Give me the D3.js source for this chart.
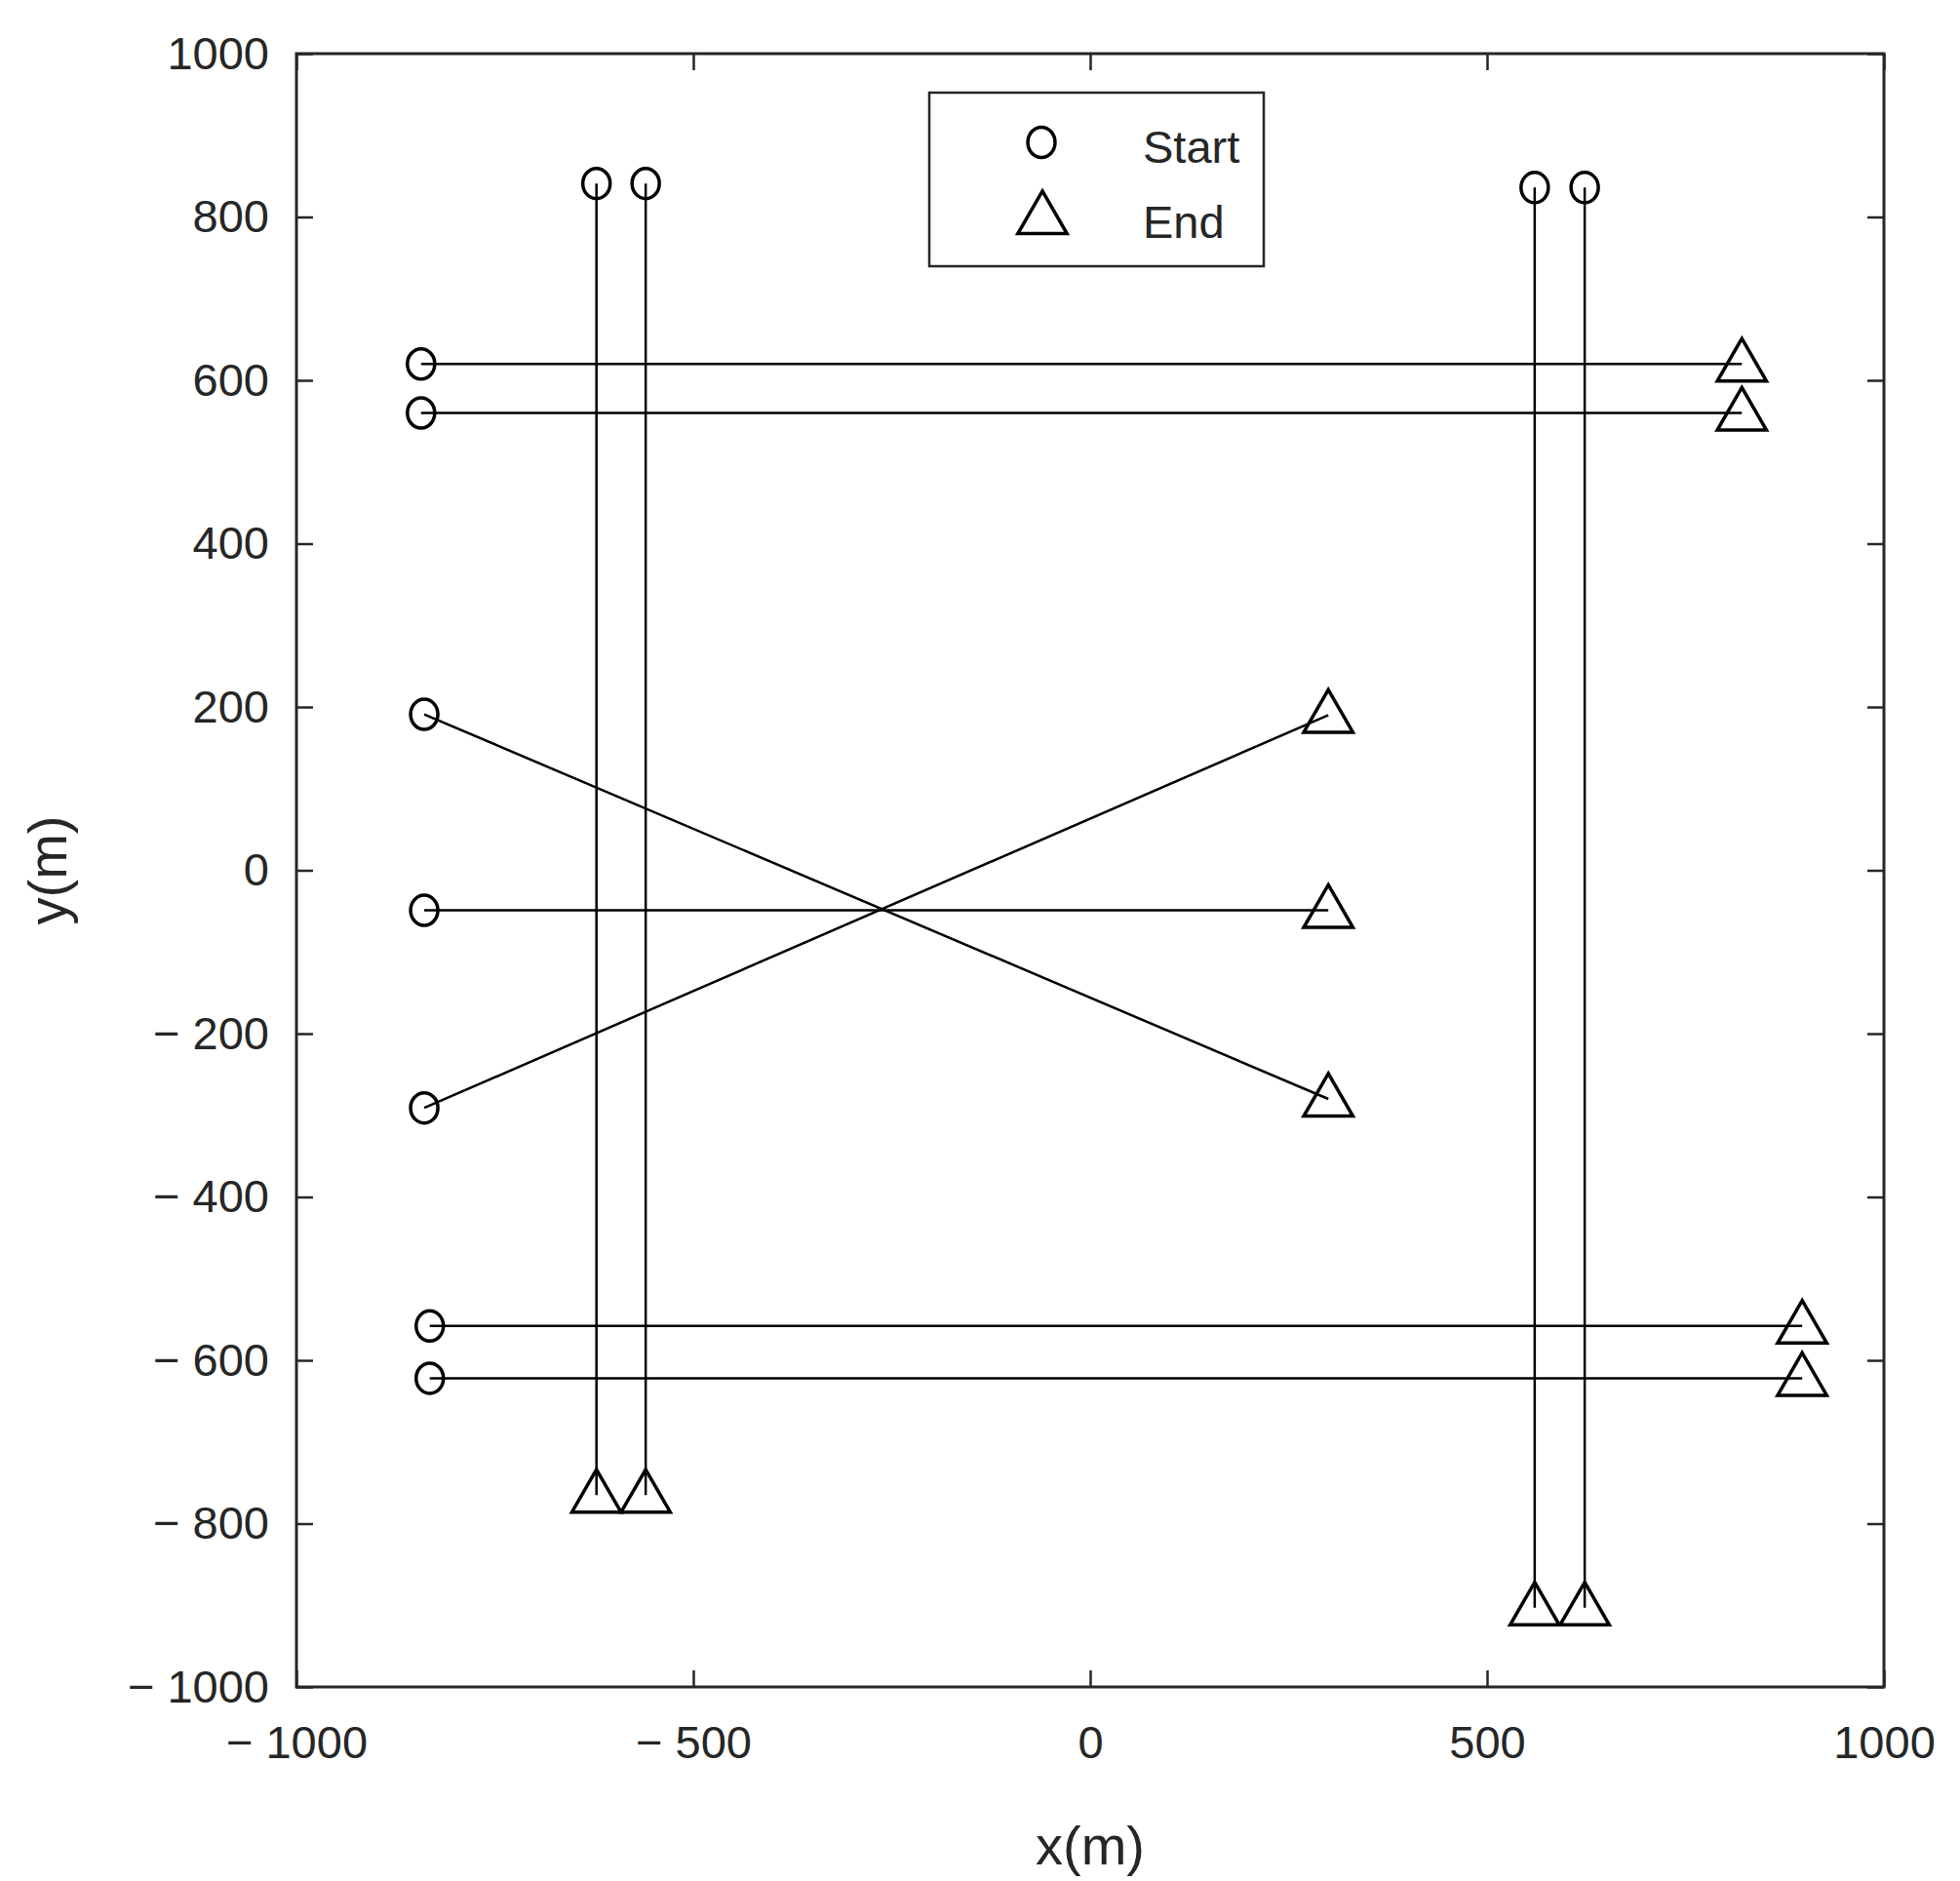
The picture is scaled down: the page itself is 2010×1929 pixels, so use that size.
<!DOCTYPE html><html><head><meta charset="utf-8"><script src="https://cdn.jsdelivr.net/npm/d3@7"></script>
<style>body{margin:0;background:#fff}text{font-family:"Liberation Sans",Arial,sans-serif;fill:#262626}</style></head><body>
<svg id="c" width="2010" height="1929"></svg>
<script>
const startX=[-622,-560,560,623,-843,-843,-839,-839,-839,-832,-832];
const startY=[841,841,836,836,620,560,191,-49,-291,-558,-622];
const endX=[-622,-560,560,623,821,821,300,300,300,897,897];
const endY=[-765,-765,-903,-903,620,560,-280,-49,190,-558,-622];
const xTicks=[-1000,-500,0,500,1000];
const yTicks=[-1000,-800,-600,-400,-200,0,200,400,600,800,1000];
const legendLabels=["Start","End"];
const L=304,R=1932,T=55,B=1730;
const svg=d3.select("#c");
const x=d3.scaleLinear().domain([-1000,1000]).range([L,R]);
const y=d3.scaleLinear().domain([-1000,1000]).range([B,T]);
const fmt=d=>d<0?"\u2212 "+Math.abs(d):String(d);
const tl=17;
const ax=(g,a)=>{g.call(a);g.select(".domain").remove();g.selectAll("line").attr("stroke","#262626").attr("stroke-width",2.5);g.selectAll("text").style("font-size","47px").attr("fill","#262626");};
svg.append("g").attr("transform",`translate(0,${B})`).call(g=>ax(g,d3.axisBottom(x).tickValues(xTicks).tickFormat(fmt).tickSizeInner(-tl).tickSizeOuter(0).tickPadding(40)));
svg.append("g").attr("transform",`translate(0,${T})`).call(g=>ax(g,d3.axisTop(x).tickValues(xTicks).tickFormat("").tickSizeInner(-tl).tickSizeOuter(0)));
svg.append("g").attr("transform",`translate(${L},0)`).call(g=>ax(g,d3.axisLeft(y).tickValues(yTicks).tickFormat(fmt).tickSizeInner(-tl).tickSizeOuter(0).tickPadding(28)));
svg.append("g").attr("transform",`translate(${R},0)`).call(g=>ax(g,d3.axisRight(y).tickValues(yTicks).tickFormat("").tickSizeInner(-tl).tickSizeOuter(0)));
svg.append("rect").attr("x",L).attr("y",T).attr("width",R-L).attr("height",B-T).attr("fill","none").attr("stroke","#262626").attr("stroke-width",3);
const idx=d3.range(startX.length);
svg.append("g").selectAll("line").data(idx).join("line").attr("x1",i=>x(startX[i])).attr("y1",i=>y(startY[i])).attr("x2",i=>x(endX[i])).attr("y2",i=>y(endY[i])).attr("stroke","#000").attr("stroke-width",2.5);
const tri=d3.symbol().type(d3.symbolTriangle).size(1100);
const circ=(g,cx,cy)=>g.append("ellipse").attr("cx",cx).attr("cy",cy).attr("rx",14).attr("ry",15.5).attr("fill","none").attr("stroke","#000").attr("stroke-width",3.5);
const triM=(g,cx,cy)=>g.append("path").attr("d",tri()).attr("transform",`translate(${cx},${cy+3})`).attr("fill","none").attr("stroke","#000").attr("stroke-width",3.5);
const mg=svg.append("g");
idx.forEach(i=>{circ(mg,x(startX[i]),y(startY[i]));triM(mg,x(endX[i]),y(endY[i]));});
// legend
const lg=svg.append("g");
lg.append("rect").attr("x",953).attr("y",95).attr("width",343).attr("height",178).attr("fill","#fff").attr("stroke","#262626").attr("stroke-width",2.5);
circ(lg,1068,146);triM(lg,1069,222);
lg.selectAll("text.l").data(legendLabels).join("text").attr("x",1172).attr("y",(d,i)=>[167,244][i]).style("font-size","47px").text(d=>d);
svg.append("text").attr("x",(L+R)/2).attr("y",1912).attr("text-anchor","middle").style("font-size","56px").text("x(m)");
svg.append("text").attr("transform",`translate(68,${(T+B)/2}) rotate(-90)`).attr("text-anchor","middle").style("font-size","56px").text("y(m)");
</script></body></html>
